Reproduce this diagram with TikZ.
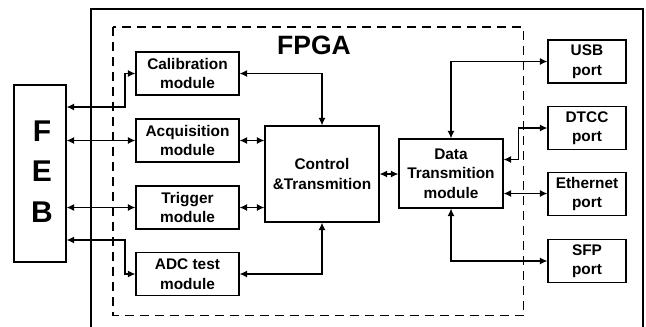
\documentclass[tikz,border=0pt]{standalone}
\usepackage{fontspec}
\setmainfont{Liberation Sans}
\usetikzlibrary{arrows.meta}
\begin{document}
\begin{tikzpicture}[x=1pt,y=-1pt,
  box/.style={draw,line width=1.2pt,minimum width=103pt,minimum height=43pt,inner sep=0pt,align=center,
    font=\fontsize{15.4}{19.5}\selectfont\bfseries},
  portbox/.style={box,minimum width=78pt},
  conn/.style={line width=1.2pt,{Latex[length=7.5pt,width=7pt]}-{Latex[length=7.5pt,width=7pt]}},
  frame/.style={line width=1.2pt},
  dashbox/.style={line width=1.2pt,dash pattern=on 9pt off 6pt}]
\useasboundingbox (0,0) rectangle (646,327);
% outer frame (bottom outside picture)
\draw[frame] (91,327) -- (91,9) -- (643,9) -- (643,327);
% FPGA dashed region
\draw[dashbox] (113,27) rectangle (523.5,315.5);
\node[font=\fontsize{26.5}{30}\selectfont\bfseries] (fpga) at (314,45.5) {FPGA};
% FEB
\node[draw,line width=1.2pt,minimum width=52pt,minimum height=177pt,inner sep=0pt] (feb) at (40,173.5) {};
\node[font=\fontsize{30}{40.5}\selectfont\bfseries,align=center] (febt) at (42,171.5) {F\\E\\B};
% modules
\node[box] (cal) at (187.5,73.5) {Calibration\\module};
\node[box] (acq) at (187.5,140.5) {Acquisition\\module};
\node[box] (trg) at (187.5,207.5) {Trigger\\module};
\node[box] (adc) at (187.5,274) {ADC test\\module};
\node[box,minimum width=114pt,minimum height=96pt] (ctl) at (322,174) {Control\\\&Transmition};
\node[box,minimum width=104pt,minimum height=69pt] (dat) at (451,173.5) {Data\\Transmition\\module};
\node[portbox] (usb) at (587,61.5) {USB\\port};
\node[portbox] (dtcc) at (587,128) {DTCC\\port};
\node[portbox] (eth) at (587,194) {Ethernet\\port};
\node[portbox] (sfp) at (587,261) {SFP\\port};
% waypoints
\coordinate (f1) at (0,107);
\coordinate (f4) at (0,240);
\coordinate (j1) at (125,107);
\coordinate (j4) at (125,240);
\coordinate (d2) at (0,159.5);
\coordinate (dj) at (518.5,159.5);
\coordinate (de) at (0,193.5);
% connectors
\draw[conn] (feb.east |- f1) -- (j1) |- (cal.west);
\draw[conn] (feb.east |- acq) -- (acq.west);
\draw[conn] (feb.east |- trg) -- (trg.west);
\draw[conn] (feb.east |- f4) -- (j4) |- (adc.west);
\draw[conn] (cal.east) -| (ctl.north);
\draw[conn] (acq.east) -- (ctl.west |- acq);
\draw[conn] (trg.east) -- (ctl.west |- trg);
\draw[conn] (adc.east) -| (ctl.south);
\draw[conn] (ctl.east) -- (dat.west |- ctl.east);
\draw[conn] (dat.north) |- (usb.west);
\draw[conn] (dat.east |- d2) -- (dj) |- (dtcc.west);
\draw[conn] (dat.east |- de) -- (eth.west |- de);
\draw[conn] (dat.south) |- (sfp.west);
\end{tikzpicture}
\end{document}
